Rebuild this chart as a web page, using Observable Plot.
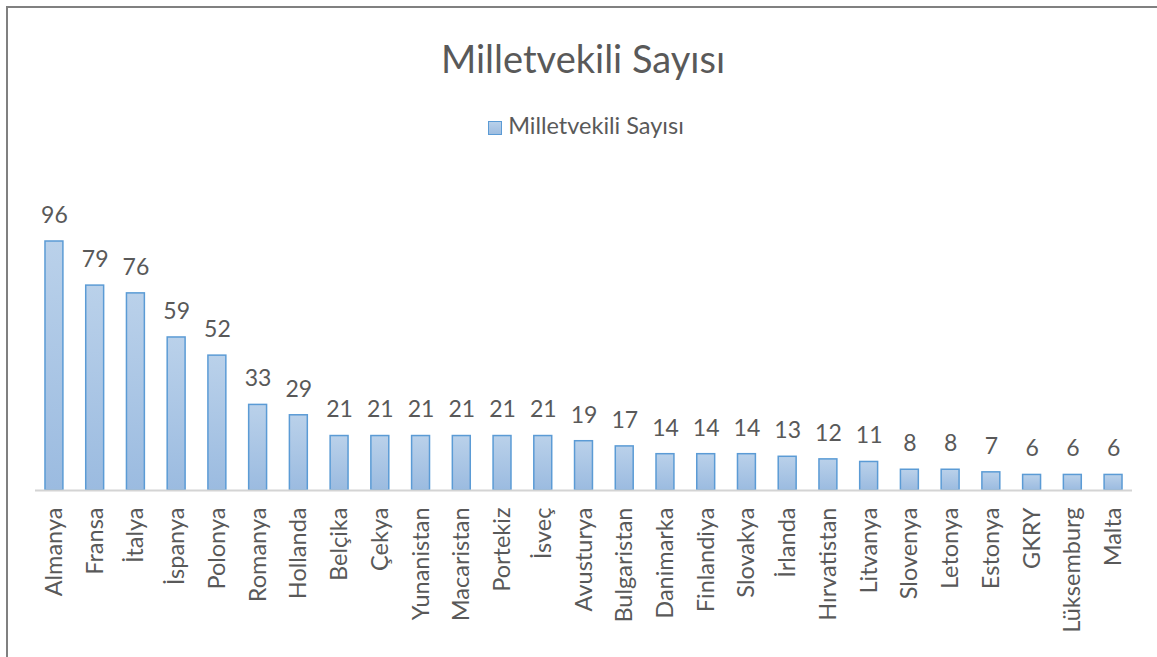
<!DOCTYPE html>
<html>
<head>
<meta charset="utf-8">
<script src="https://cdn.jsdelivr.net/npm/d3@7"></script>
<script src="https://cdn.jsdelivr.net/npm/@observablehq/plot@0.6"></script>
<style>
  html, body { margin: 0; padding: 0; background: #fff; }
  #wrap { position: relative; width: 1157px; height: 657px; overflow: hidden; font-family: Lato, "Open Sans", sans-serif; }
  #frame { position: absolute; left: 6px; top: 6px; width: 1200px; height: 700px; border-left: 2px solid #808080; border-top: 2px solid #808080; box-sizing: border-box; }
  #title { position: absolute; left: 0; width: 1166px; top: 35px; text-align: center; font-size: 38px; color: #595959; line-height: 46px; }
  #legend { position: absolute; left: 0; width: 1172px; top: 111px; text-align: center; font-size: 23.5px; color: #595959; line-height: 28px; }
  #legend .sw { display: inline-block; width: 12px; height: 12px; border: 1.5px solid #5b9bd5; background: linear-gradient(#b8d0ea, #9ebde0); vertical-align: -1px; margin-right: 6px; }
  #chart { position: absolute; left: 0; top: 0; }
</style>
</head>
<body>
<div id="wrap">
  <div id="frame"></div>
  <div id="title">Milletvekili Sayısı</div>
  <div id="legend"><span class="sw"></span>Milletvekili Sayısı</div>
  <div id="chart"></div>
</div>
<script>
const countries = ["Almanya","Fransa","İtalya","İspanya","Polonya","Romanya","Hollanda","Belçika","Çekya","Yunanistan","Macaristan","Portekiz","İsveç","Avusturya","Bulgaristan","Danimarka","Finlandiya","Slovakya","İrlanda","Hırvatistan","Litvanya","Slovenya","Letonya","Estonya","GKRY","Lüksemburg","Malta"];
const seats = [96,79,76,59,52,33,29,21,21,21,21,21,21,19,17,14,14,14,13,12,11,8,8,7,6,6,6];

const data = countries.map((c, i) => ({country: c, seats: seats[i]}));

const gradient = () => {
  const defs = d3.create("svg:defs");
  const g = defs.append("linearGradient").attr("id", "barGrad").attr("x1", 0).attr("y1", 0).attr("x2", 0).attr("y2", 1);
  g.append("stop").attr("offset", "0%").attr("stop-color", "#bad1ea");
  g.append("stop").attr("offset", "100%").attr("stop-color", "#9bbbe0");
  return defs.node();
};

const chart = Plot.plot({
  width: 1157,
  height: 657,
  marginTop: 241,
  marginBottom: 167,
  marginLeft: 35,
  marginRight: 25,
  style: {background: "transparent", fontFamily: "Lato, 'Open Sans', sans-serif", color: "#595959"},
  x: {domain: countries, paddingInner: 0.56, paddingOuter: 0.245, round: false, label: null},
  y: {domain: [0, 96], axis: null},
  marks: [
    gradient,
    Plot.barY(data, {x: "country", y: "seats", fill: "url(#barGrad)", stroke: "#5b9bd5", strokeWidth: 1.5}),
    Plot.ruleY([0], {stroke: "#d4d4d4", strokeWidth: 2}),
    Plot.text(data, {x: "country", y: "seats", text: d => String(d.seats), dy: -26, fontSize: 23, fill: "#595959"}),
    Plot.axisX({tickRotate: -90, tickSize: 0, tickPadding: 17, fontSize: 23.5, fill: "#595959", label: null})
  ]
});
document.getElementById("chart").appendChild(chart);
</script>
</body>
</html>
